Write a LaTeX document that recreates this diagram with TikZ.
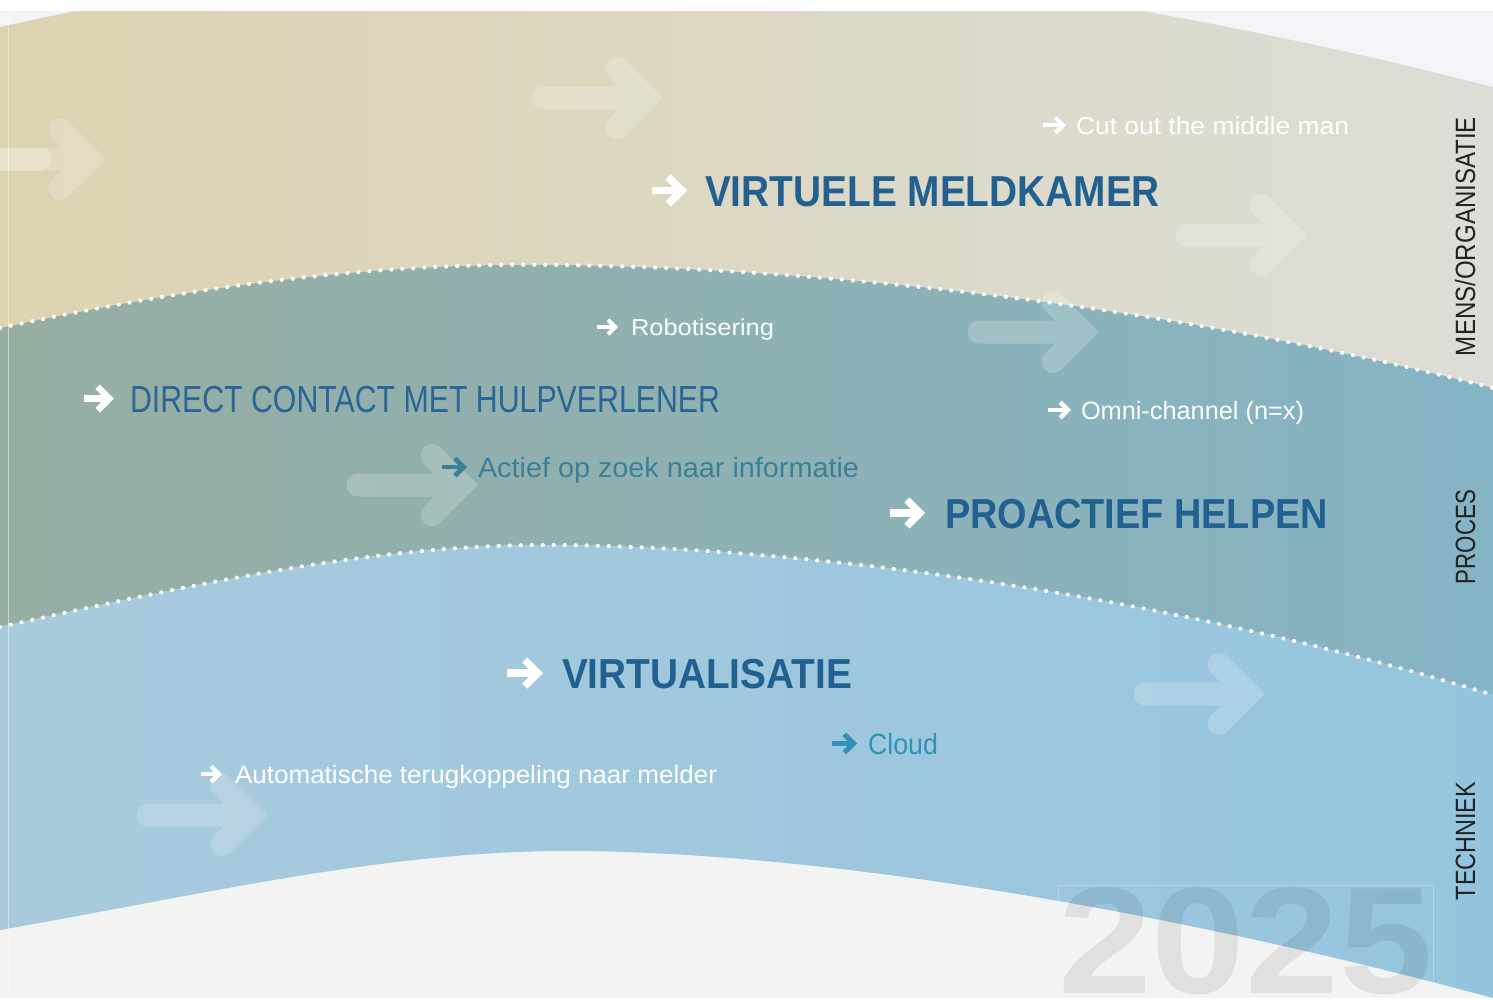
\documentclass[tikz,border=0pt]{standalone}
\usepackage{fontspec}
\setmainfont{Liberation Sans}
\usepackage{graphicx}

\definecolor{headblue}{HTML}{21608F}
\definecolor{dirblue}{HTML}{2A6596}
\definecolor{tealtxt}{HTML}{3B8196}
\definecolor{cloudblue}{HTML}{3590B8}
\definecolor{sidegray}{HTML}{222222}
\definecolor{bgtop}{HTML}{F2F4F7}
\definecolor{bgbot}{HTML}{F3F3F4}
\definecolor{bandAl}{HTML}{DDD3B1}
\definecolor{bandAr}{HTML}{DCDDD7}
\definecolor{bandBl}{HTML}{97AEA2}
\definecolor{bandBr}{HTML}{85B4C5}
\definecolor{bandCl}{HTML}{A9CADD}
\definecolor{bandCr}{HTML}{95C5DE}

\newcommand\ftext[3]{{\fontsize{#1}{#1}\selectfont\resizebox{#2pt}{\height}{#3}}}

\newcommand\tarr[5]{%
  \pgfmathsetmacro\myTw{0.24*#4}%
  \pgfmathsetmacro\myHh{0.52*#4-0.35*\myTw}%
  \pgfmathsetmacro\myVx{#2-0.707*\myTw}%
  \draw[draw=#5, line width=\myTw pt, line cap=butt] (#1,#3) -- (\myVx,#3);
  \draw[draw=#5, line width=\myTw pt, line join=miter, line cap=butt]
    (\myVx-\myHh,#3-\myHh) -- (\myVx,#3) -- (\myVx-\myHh,#3+\myHh);
}

\newcommand\ghost[2]{%
  \draw[ghoststyle] (#1-120,#2) -- (#1-16.3,#2)
    (#1-45.8,#2-29.5) -- (#1-16.3,#2) -- (#1-45.8,#2+29.5);
}

\tikzset{
  ghoststyle/.style={draw=white, draw opacity=0.2, line width=23pt, line cap=round, line join=miter},
  dotline/.style={draw=white, line width=4.2pt, line cap=round, dash pattern=on 0pt off 11pt},
  txt/.style={inner sep=0pt, outer sep=0pt, anchor=base west},
  side/.style={txt, text=sidegray, rotate=90},
}

\begin{document}
\begin{tikzpicture}[x=1pt,y=-1pt]
\useasboundingbox (0,0) rectangle (1493,999);
\clip (0,0) rectangle (1493,999);

% backgrounds
\fill[white] (0,0) rectangle (1493,999);
\fill[bgtop] (0,11) rectangle (1493,500);
\fill[bgbot] (0,500) rectangle (1493,998);

% band 1 (mens/organisatie)
\shade[left color=bandAl, right color=bandAr]
  (0,27) -- (75,11) -- (1143,11) .. controls (1260,32) and (1380,58) .. (1493,87)
  -- (1493,388) .. controls (1150,300) and (800,268) .. (560,265)
  .. controls (380,262) and (200,285) .. (0,328) -- cycle;

% band 2 (proces)
\shade[left color=bandBl, right color=bandBr]
  (0,328) .. controls (200,285) and (380,262) .. (560,265)
  .. controls (800,268) and (1150,300) .. (1493,388)
  -- (1493,695) .. controls (1150,590) and (800,548) .. (560,545)
  .. controls (380,543) and (200,583) .. (0,627) -- cycle;

% band 3 (techniek)
\shade[left color=bandCl, right color=bandCr]
  (0,627) .. controls (200,583) and (380,543) .. (560,545)
  .. controls (800,548) and (1150,590) .. (1493,695)
  -- (1493,998) .. controls (1150,905) and (800,850) .. (560,851)
  .. controls (380,852) and (200,895) .. (0,930) -- cycle;

% faint vertical line at the left
\draw[white, opacity=0.45, line width=1pt] (8,11) -- (8,999);

% year
\node[txt, text=black, text opacity=0.075] (year) at (1058,993)
  {\ftext{152}{375}{\bfseries 2025}};
\draw[white, opacity=0.25, line width=0.8pt] (1058,885) rectangle (1433,1010);

% ghost arrows
\ghost{106}{159}
\draw[ghoststyle] (-20,159) -- (40,159);
\ghost{663}{98}
\ghost{1307}{235}
\ghost{1099}{332}
\ghost{478}{485}
\ghost{1265}{694}
\ghost{268}{815}

% dotted boundaries
\draw[dotline] (0,328) .. controls (200,285) and (380,262) .. (560,265)
  .. controls (800,268) and (1150,300) .. (1493,388);
\draw[dotline] (0,627) .. controls (200,583) and (380,543) .. (560,545)
  .. controls (800,548) and (1150,590) .. (1493,695);

% texts
\tarr{1043}{1066}{125.3}{17.5}{white}
\node[txt, text=white] (t1) at (1076,134) {\ftext{24.4}{273}{Cut out the middle man}};

\tarr{652}{687}{190.5}{31}{white}
\node[txt, text=headblue] (t2) at (705,206) {\ftext{43.3}{455}{\bfseries VIRTUELE MELDKAMER}};

\tarr{597}{618}{327}{16.5}{white}
\node[txt, text=white] (t3) at (631,335) {\ftext{23}{143}{Robotisering}};

\tarr{84}{114}{398.5}{27}{white}
\node[txt, text=dirblue] (t4) at (130,412) {\ftext{37.7}{590}{DIRECT CONTACT MET HULPVERLENER}};

\tarr{1048}{1071}{410}{18}{white}
\node[txt, text=white] (t5) at (1081,419) {\ftext{25.1}{223}{Omni-channel (n=x)}};

\tarr{442}{467}{467}{20}{tealtxt}
\node[txt, text=tealtxt] (t6) at (478,477) {\ftext{27.9}{381}{Actief op zoek naar informatie}};

\tarr{890}{925}{513}{30}{white}
\node[txt, text=headblue] (t7) at (945,528) {\ftext{41.9}{383}{\bfseries PROACTIEF HELPEN}};

\tarr{507}{543}{673}{30}{white}
\node[txt, text=headblue] (t8) at (562,688) {\ftext{41.9}{290}{\bfseries VIRTUALISATIE}};

\tarr{832}{857}{743.5}{21}{cloudblue}
\node[txt, text=cloudblue] (t9) at (868,754) {\ftext{29.3}{70}{Cloud}};

\tarr{201}{222}{774}{18}{white}
\node[txt, text=white] (t10) at (235,783) {\ftext{25.1}{482}{Automatische terugkoppeling naar melder}};

% side labels
\node[side] (s1) at (1475,356) {\ftext{27.9}{239}{MENS/ORGANISATIE}};
\node[side] (s2) at (1475,584) {\ftext{27.9}{94}{PROCES}};
\node[side] (s3) at (1475,900) {\ftext{27.9}{118}{TECHNIEK}};
\end{tikzpicture}
\end{document}
